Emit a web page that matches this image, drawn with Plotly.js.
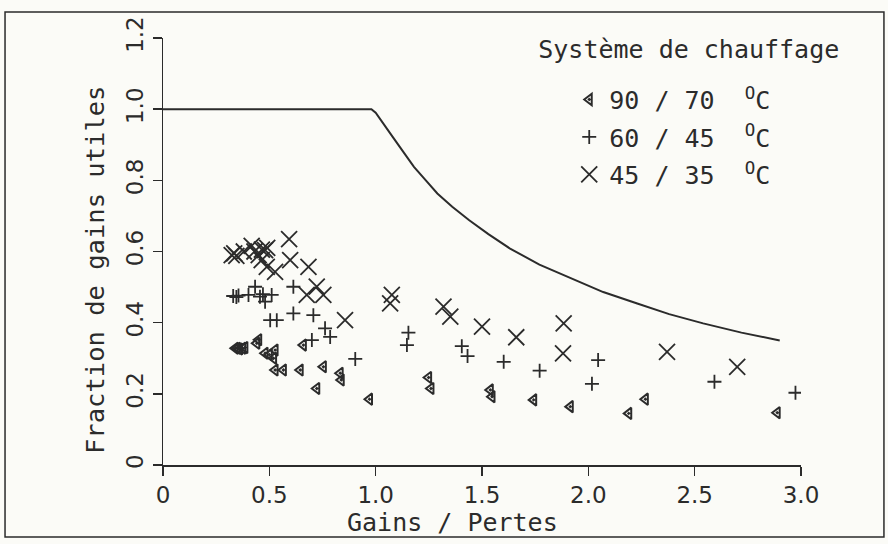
<!DOCTYPE html>
<html>
<head>
<meta charset="utf-8">
<script src="https://cdn.plot.ly/plotly-3.0.1.min.js"></script>
<style>html,body{margin:0;padding:0;background:#fbfbf7;}#chart{width:888px;height:544px;}</style>
</head>
<body>
<div id="chart"></div>
<script>
// Limit curve
const curveX = [0, 0.98, 1.0, 1.04, 1.08, 1.13, 1.18, 1.24, 1.29, 1.36, 1.44, 1.53, 1.63, 1.77, 1.92, 2.07, 2.23, 2.38, 2.54, 2.72, 2.9];
const curveY = [1.0, 1.0, 0.99, 0.955, 0.922, 0.88, 0.838, 0.797, 0.763, 0.726, 0.688, 0.649, 0.609, 0.563, 0.524, 0.486, 0.454, 0.424, 0.398, 0.372, 0.35];

// Série 90/70 °C (triangles)
const s9070X = [0.34, 0.35, 0.36, 0.375, 0.385, 0.441, 0.45, 0.48, 0.50, 0.527, 0.52, 0.527, 0.566, 0.645, 0.66, 0.754, 0.833, 0.838, 0.723, 0.971, 1.249, 1.26, 1.539, 1.547, 1.743, 1.915, 2.19, 2.268, 2.888];
const s9070Y = [0.328, 0.328, 0.326, 0.328, 0.33, 0.342, 0.352, 0.314, 0.31, 0.323, 0.30, 0.267, 0.267, 0.267, 0.337, 0.276, 0.258, 0.239, 0.215, 0.185, 0.246, 0.215, 0.211, 0.192, 0.183, 0.164, 0.145, 0.185, 0.147];

// Série 60/45 °C (plus)
const s6045X = [0.33, 0.345, 0.355, 0.402, 0.433, 0.456, 0.48, 0.47, 0.511, 0.613, 0.504, 0.535, 0.613, 0.707, 0.762, 0.786, 0.70, 0.904, 1.154, 1.147, 1.405, 1.432, 1.602, 1.771, 2.046, 2.017, 2.593, 2.974];
const s6045Y = [0.475, 0.472, 0.476, 0.478, 0.501, 0.473, 0.459, 0.48, 0.478, 0.501, 0.407, 0.407, 0.426, 0.421, 0.384, 0.36, 0.351, 0.298, 0.372, 0.337, 0.334, 0.306, 0.29, 0.265, 0.295, 0.228, 0.234, 0.203];

// Série 45/35 °C (croix)
const s4535X = [0.323, 0.335, 0.345, 0.38, 0.417, 0.43, 0.45, 0.465, 0.48, 0.49, 0.464, 0.488, 0.527, 0.593, 0.598, 0.684, 0.723, 0.676, 0.754, 0.856, 1.076, 1.068, 1.319, 1.351, 1.5, 1.661, 1.884, 1.881, 2.37, 2.70];
const s4535Y = [0.59, 0.595, 0.588, 0.60, 0.616, 0.60, 0.59, 0.605, 0.604, 0.61, 0.576, 0.557, 0.543, 0.635, 0.576, 0.557, 0.501, 0.478, 0.478, 0.407, 0.478, 0.454, 0.445, 0.417, 0.389, 0.359, 0.398, 0.314, 0.318, 0.276];

const xTickVals = [0, 0.5, 1.0, 1.5, 2.0, 2.5, 3.0];
const xTickText = ['0', '0.5', '1.0', '1.5', '2.0', '2.5', '3.0'];
const yTickVals = [0, 0.2, 0.4, 0.6, 0.8, 1.0, 1.2];
const yTickText = ['0', '0.2', '0.4', '0.6', '0.8', '1.0', '1.2'];

const xTitle = 'Gains / Pertes';
const yTitle = 'Fraction de gains utiles';
const legendTitle = 'Système de chauffage';

const ink = '#2b2b2b';
const mono = 'DejaVu Sans Mono, monospace';
const nb = '\u00a0';

const traces = [
  {x: curveX, y: curveY, mode: 'lines', line: {color: ink, width: 2}, showlegend: false, hoverinfo: 'skip'},
  {x: s9070X, y: s9070Y, mode: 'markers', name: '90' + nb + '/' + nb + '70' + nb + nb + '<sup>O</sup>C', legendgroup: 'a',
   legendgrouptitle: {text: nb, font: {family: mono, size: 9, color: ink}},
   marker: {symbol: 'triangle-left-open-dot', size: 10, color: ink, line: {color: ink, width: 2}}},
  {x: s6045X, y: s6045Y, mode: 'markers', name: '60' + nb + '/' + nb + '45' + nb + nb + '<sup>O</sup>C', legendgroup: 'b',
   marker: {symbol: 'cross-thin-open', size: 10, color: ink, line: {color: ink, width: 1.8}}},
  {x: s4535X, y: s4535Y, mode: 'markers', name: '45' + nb + '/' + nb + '35' + nb + nb + '<sup>O</sup>C', legendgroup: 'c',
   marker: {symbol: 'x-thin-open', size: 16, color: ink, line: {color: ink, width: 1.8}}}
];

const layout = {
  width: 888, height: 544,
  margin: {l: 163, r: 87, t: 38, b: 79},
  paper_bgcolor: '#fbfbf7', plot_bgcolor: '#fbfbf7',
  font: {family: mono, color: ink, size: 25},
  xaxis: {
    range: [0, 3], showgrid: false, zeroline: false, showline: true, linecolor: ink, linewidth: 1.5,
    ticks: 'outside', ticklen: 9, tickwidth: 1.5, tickcolor: ink,
    tickvals: xTickVals, ticktext: xTickText,
    tickfont: {family: 'DejaVu Sans, sans-serif', size: 23, color: ink}
  },
  yaxis: {
    range: [0, 1.2], showgrid: false, zeroline: false, showline: true, linecolor: ink, linewidth: 1.5,
    ticks: 'outside', ticklen: 9, tickwidth: 1.5, tickcolor: ink, tickangle: -90,
    tickvals: yTickVals, ticktext: yTickText,
    tickfont: {family: 'DejaVu Sans, sans-serif', size: 23, color: ink}
  },
  annotations: [
    {text: xTitle, xref: 'paper', yref: 'paper', x: 0.453, y: -0.1358, xanchor: 'center', yanchor: 'middle',
     showarrow: false, font: {family: mono, size: 25, color: ink}},
    {text: yTitle, xref: 'paper', yref: 'paper', x: -0.1066, y: 0.4567, xanchor: 'center', yanchor: 'middle',
     textangle: -90, showarrow: false, font: {family: mono, size: 25.5, color: ink}}
  ],
  showlegend: true,
  legend: {
    x: 0.585, y: 1.03, xanchor: 'left', yanchor: 'top',
    bgcolor: 'rgba(0,0,0,0)', borderwidth: 0,
    font: {family: mono, size: 25, color: ink},
    title: {text: legendTitle, font: {family: mono, size: 25, color: ink}},
    indentation: 33, tracegroupgap: 2, traceorder: 'grouped'
  },
  shapes: [
    {type: 'rect', xref: 'paper', yref: 'paper', x0: -0.2476, x1: 1.130, y0: -0.1686, y1: 1.061,
     line: {color: ink, width: 1.5}, fillcolor: 'rgba(0,0,0,0)'}
  ]
};

Plotly.newPlot('chart', traces, layout, {staticPlot: true, displayModeBar: false});
</script>
</body>
</html>
